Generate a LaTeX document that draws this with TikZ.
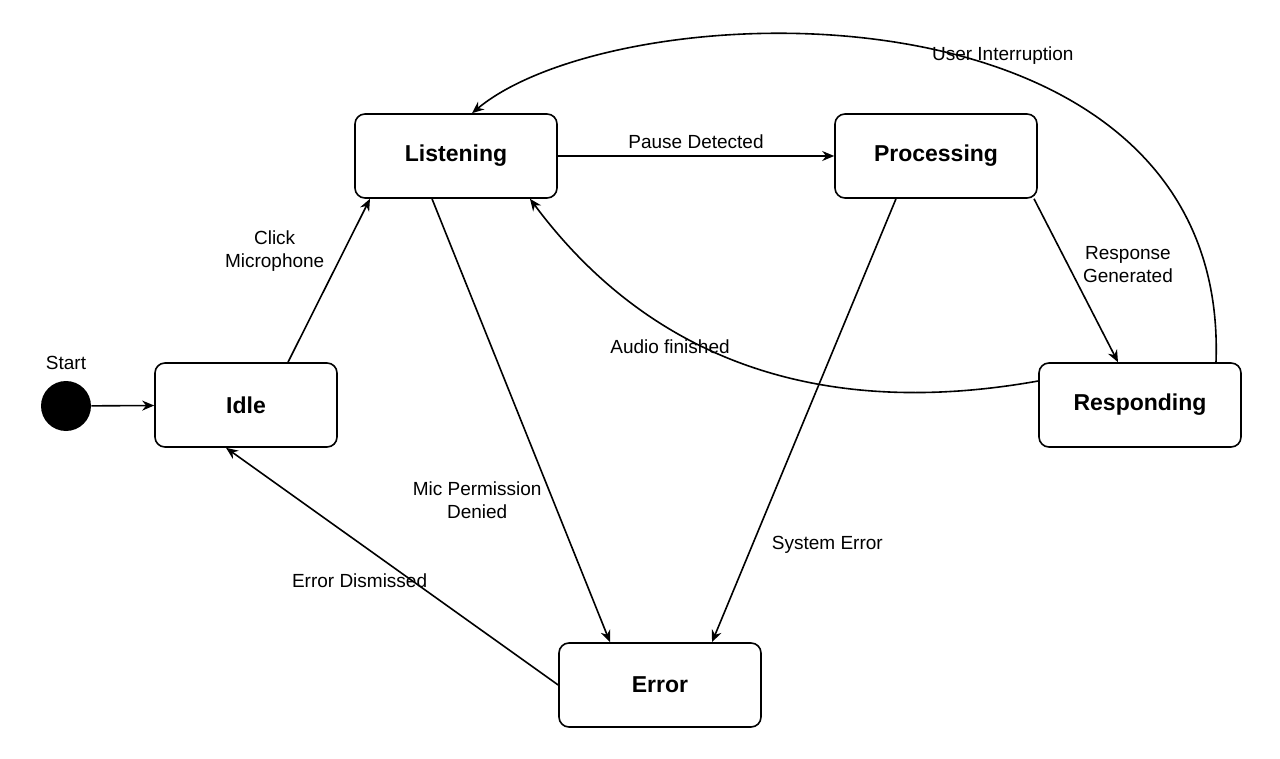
\documentclass[tikz,border=0pt]{standalone}
\usepackage{fontspec}
\setmainfont{Liberation Sans}
\usetikzlibrary{arrows.meta}
\begin{document}
\begin{tikzpicture}[x=0.5pt,y=-0.5pt,
    state/.style={draw, thick, rounded corners=5pt, font=\fontsize{11.5}{13}\selectfont\bfseries, minimum width=101pt, minimum height=42pt},
    lbl/.style={font=\fontsize{9.5}{11.5}\selectfont, align=center},
    >={Stealth[length=6pt,width=5pt]}]
    \useasboundingbox (0,0) rectangle (1280,759);

\node[circle, fill, minimum size=25pt, inner sep=0] (start) at (66,406) {};
\node[lbl] (startlbl) at (66,363) {Start};
\node[state, minimum width=91pt] (idle) at (246,405) {Idle};
\node[state] (listen) at (456,156) {Listening};
\node[state] (proc) at (936,156) {Processing};
\node[state] (resp) at (1140,405) {Responding};
\node[state] (err) at (660,685) {Error};

\draw[thick,->] (start) -- (idle);
\draw[thick,->] ([xshift=21pt]idle.north) -- ([xshift=-43pt]listen.south) node[lbl, pos=0.68, left=6pt] {Click\\Microphone};
\draw[thick,->] (listen) -- (proc) node[lbl, midway, above] {Pause Detected};
\draw[thick,->] ([xshift=49pt]proc.south) -- ([xshift=-11pt]resp.north) node[lbl, pos=0.4, right=4pt] {Response\\Generated};
\draw[thick,->] ([xshift=38pt]resp.north) .. controls (1230,-30) and (620,-10) .. ([xshift=8pt]listen.north) node[lbl, pos=0.4, above=-1pt] {User Interruption};
\draw[thick,->] ([yshift=12pt]resp.west) .. controls (820,420) and (650,360) .. ([xshift=37pt]listen.south) node[lbl, pos=0.52, anchor=south east] {Audio finished};
\draw[thick,->] ([xshift=-12pt]listen.south) -- ([xshift=-25pt]err.north) node[lbl, pos=0.68, left=2pt] {Mic Permission\\Denied};
\draw[thick,->] ([xshift=-20pt]proc.south) -- ([xshift=26pt]err.north) node[lbl, pos=0.78, right=6pt] {System Error};
\draw[thick,->] (err.west) -- ([xshift=-10pt]idle.south) node[lbl, pos=0.36, above left=2pt] {Error Dismissed};

\end{tikzpicture}
\end{document}
